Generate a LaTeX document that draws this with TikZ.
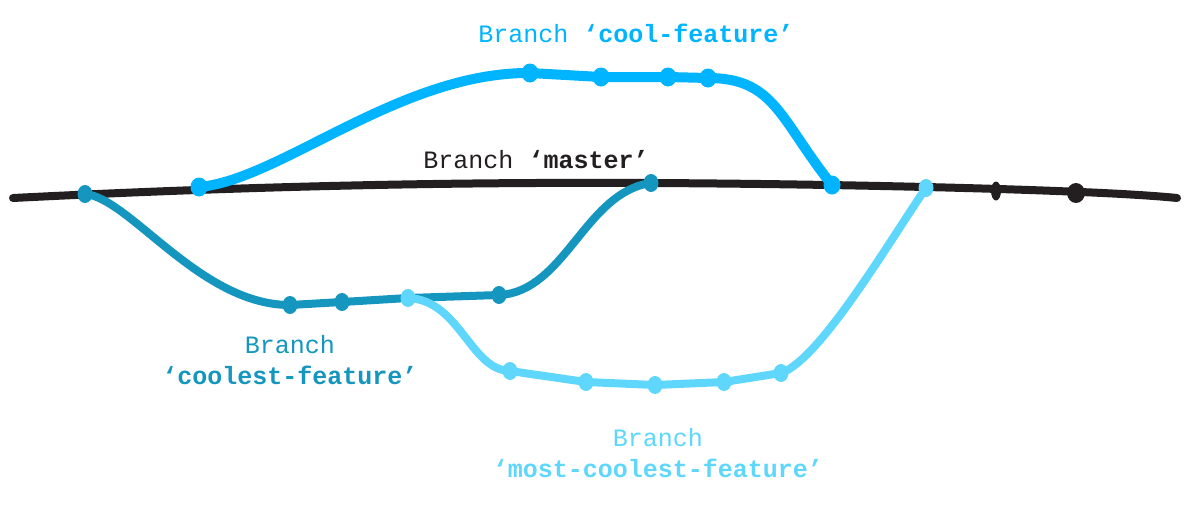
\documentclass[tikz,border=0pt]{standalone}
\usepackage{fontspec}
\setmonofont{Liberation Mono}
\usetikzlibrary{shapes.geometric}

\definecolor{masterblack}{RGB}{35,31,32}
\definecolor{coolblue}{RGB}{0,180,255}
\definecolor{coolestblue}{RGB}{20,150,190}
\definecolor{mostblue}{RGB}{95,215,252}

\tikzset{
  commit/.style={ellipse,fill,inner sep=0pt,minimum width=15pt,minimum height=18pt},
  branch/.style={line cap=round,line join=round,line width=8pt},
  branchname/.style={font=\ttfamily\fontsize{25}{31}\selectfont,inner sep=0pt}
}

\begin{document}
\begin{tikzpicture}[x=1pt,y=-1pt]
    \useasboundingbox (0,0) rectangle (1189,504);

    % commits on master
    \coordinate (m0) at (13,198);
    \coordinate (c0) at (85,194);
    \coordinate (f0) at (199,187);
    \coordinate (c4) at (651,183);
    \coordinate (f5) at (832,185);
    \coordinate (s6) at (926,188);
    \coordinate (m1) at (996,191);
    \coordinate (m2) at (1076,193);
    \coordinate (m3) at (1177,198);

    % commits on the branches
    \coordinate (f1) at (530,73);
    \coordinate (f2) at (601,77);
    \coordinate (f3) at (668,77);
    \coordinate (f4) at (708,78);
    \coordinate (c1) at (290,305);
    \coordinate (c2) at (342,302);
    \coordinate (s0) at (408,298);
    \coordinate (c3) at (499,295);
    \coordinate (s1) at (510,371);
    \coordinate (s2) at (586,382);
    \coordinate (s3) at (655,385);
    \coordinate (s4) at (724,382);
    \coordinate (s5) at (781,373);

    % Draw the branch lines
    \draw[branch,masterblack] (m0) .. controls (250,186) and (450,182) .. (c4)
        .. controls (850,184) and (1100,190) .. (m3);
    \draw[branch,coolestblue] (c0) .. controls (130,198) and (200,305) .. (c1)
        -- (c2) -- (s0) -- (c3) .. controls (565,292) and (585,192) .. (c4);
    \draw[branch,mostblue] (s0) .. controls (460,300) and (470,370) .. (s1)
        -- (s2) -- (s3) -- (s4) -- (s5) .. controls (820,360) and (890,240) .. (s6);
    \draw[branch,coolblue,line width=10pt] (f0) .. controls (280,180) and (400,72) .. (f1)
        -- (f2) -- (f3) -- (f4) .. controls (775,78) and (780,120) .. (f5);

    % Put the commits on top
    \foreach \c in {c0,c1,c2,c3,c4}
        \node[commit,coolestblue] at (\c) {};
    \foreach \c in {f0,f1,f2,f3,f4,f5}
        \node[commit,coolblue,minimum width=17pt,minimum height=19pt] at (\c) {};
    \foreach \c in {s0,s1,s2,s3,s4,s5,s6}
        \node[commit,mostblue] at (\c) {};
    \node[commit,masterblack,minimum width=10pt,minimum height=19pt] at (m1) {};
    \node[commit,masterblack,minimum width=18pt,minimum height=20pt] at (m2) {};

    % Branch names
    \node[branchname,coolblue] (lcool) at (636,33) {Branch \textbf{‘cool-feature’}};
    \node[branchname,masterblack] (lmaster) at (536,160) {Branch \textbf{‘master’}};
    \node[branchname,coolestblue,align=center] (lcoolest) at (290,360) {Branch\\\textbf{‘coolest-feature’}};
    \node[branchname,mostblue,align=center] (lmost) at (658,453) {Branch\\\textbf{‘most-coolest-feature’}};
\end{tikzpicture}
\end{document}
